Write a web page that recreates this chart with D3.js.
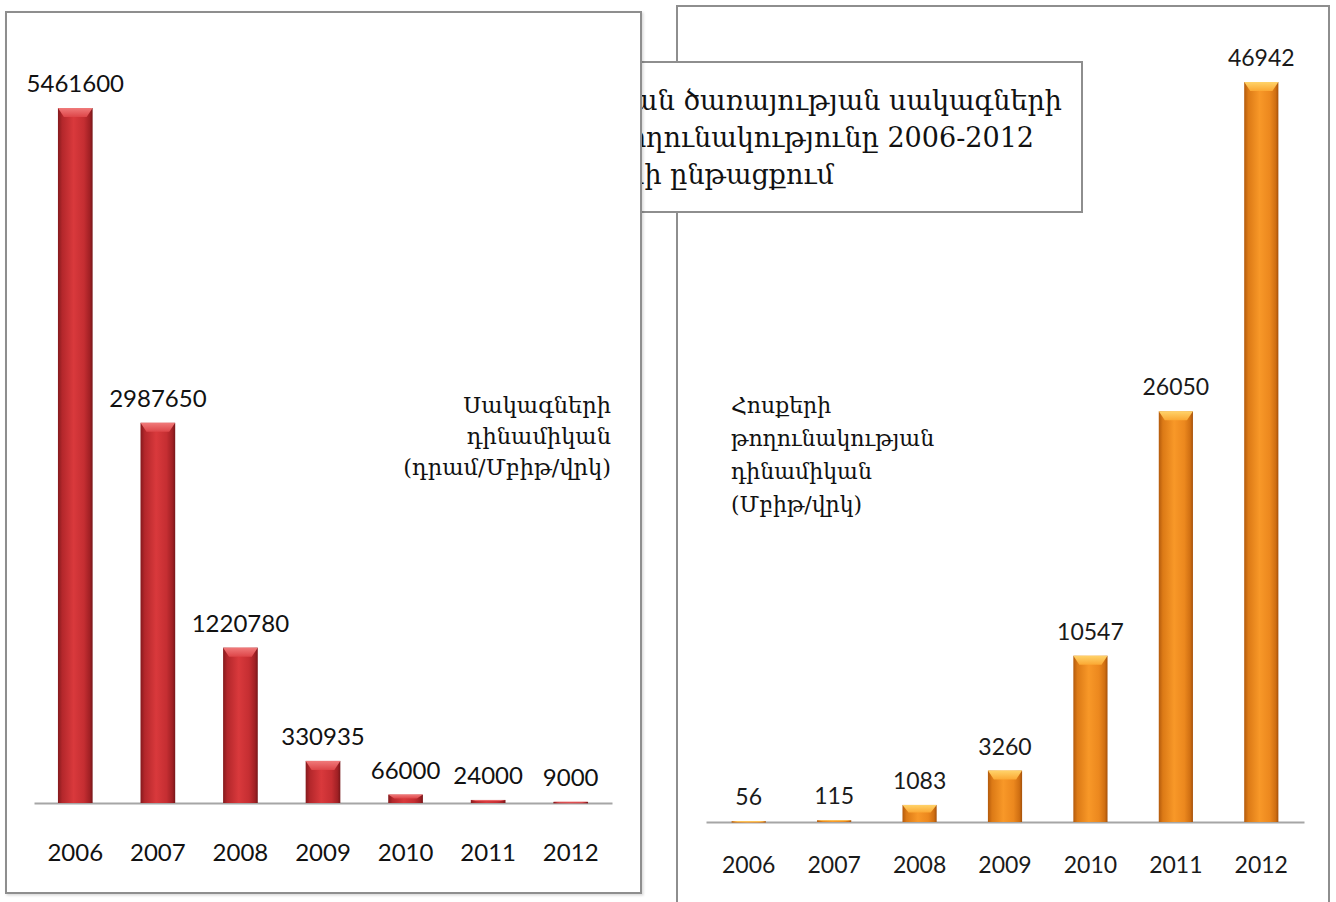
<!DOCTYPE html>
<html>
<head>
<meta charset="utf-8">
<script src="https://cdn.jsdelivr.net/npm/d3@7/dist/d3.min.js"></script>
<style>
  html, body { margin: 0; padding: 0; background: #ffffff; }
  svg { display: block; }
</style>
</head>
<body>
<script>
// ---------- data ----------
const years = ["2006", "2007", "2008", "2009", "2010", "2011", "2012"];
const tariffs = [5461600, 2987650, 1220780, 330935, 66000, 24000, 9000];
const throughput = [56, 115, 1083, 3260, 10547, 26050, 46942];
const titleLines = [
  "Ինտերնետ հասանելիության ծառայության սակագների",
  "և թողունակությունը 2006-2012",
  "թվականների ընթացքում"
];
const leftNote = ["Սակագների", "դինամիկան", "(դրամ/Մբիթ/վրկ)"];
const rightNote = ["Հոսքերի", "թողունակության", "դինամիկան", "(Մբիթ/վրկ)"];

// ---------- setup ----------
const W = 1336, H = 902;
const svg = d3.select("body").append("svg").attr("width", W).attr("height", H);
const defs = svg.append("defs");
const armFont = "'DejaVu Serif', serif";
const numFont = "Lato, 'Open Sans', sans-serif";
const borderCol = "#8e8e8e";

function hGrad(id, stops) {
  const g = defs.append("linearGradient").attr("id", id)
    .attr("x1", "0").attr("x2", "1").attr("y1", "0").attr("y2", "0");
  stops.forEach(s => g.append("stop").attr("offset", s[0]).attr("stop-color", s[1]));
}
function vGrad(id, stops) {
  const g = defs.append("linearGradient").attr("id", id)
    .attr("x1", "0").attr("x2", "0").attr("y1", "0").attr("y2", "1");
  stops.forEach(s => g.append("stop").attr("offset", s[0]).attr("stop-color", s[1]));
}
hGrad("redBody", [["0", "#841a1d"], ["0.12", "#b3272b"], ["0.45", "#d9393c"], ["0.75", "#c52e32"], ["0.92", "#a02024"], ["1", "#761619"]]);
vGrad("redTop", [["0", "#f07a7a"], ["1", "#dd4548"]]);
hGrad("orgBody", [["0", "#b35a0c"], ["0.12", "#dc7a16"], ["0.45", "#f89828"], ["0.75", "#ec881e"], ["0.92", "#d06f12"], ["1", "#a4500a"]]);
vGrad("orgTop", [["0", "#ffd36a"], ["1", "#fba833"]]);

const filt = defs.append("filter").attr("id", "shadow").attr("x", "-5%").attr("y", "-5%").attr("width", "115%").attr("height", "115%");
filt.append("feDropShadow").attr("dx", 1.5).attr("dy", 1.5).attr("stdDeviation", 1).attr("flood-color", "#000").attr("flood-opacity", 0.15);

function drawBars(g, data, x, y, bodyId, topId) {
  const bw = x.bandwidth();
  const bars = g.selectAll(".bar").data(data).join("g").attr("class", "bar");
  bars.append("rect")
    .attr("x", (d, i) => x(years[i]))
    .attr("y", d => y(d))
    .attr("width", bw)
    .attr("height", d => Math.max(1.5, y(0) - y(d)))
    .attr("fill", `url(#${bodyId})`);
  bars.append("path")
    .attr("d", (d, i) => {
      const x0 = x(years[i]), y0 = y(d);
      const h = Math.min(9, Math.max(1, (y(0) - y(d)) * 0.45));
      const inset = Math.min(6, bw * 0.18);
      return `M${x0},${y0}L${x0 + bw},${y0}L${x0 + bw - inset},${y0 + h}L${x0 + inset},${y0 + h}Z`;
    })
    .attr("fill", `url(#${topId})`);
}

// ---------- right panel (bottom layer) ----------
const right = svg.append("g");
right.append("rect").attr("x", 677).attr("y", 6).attr("width", 652).attr("height", 910)
  .attr("fill", "#fff").attr("stroke", borderCol).attr("stroke-width", 2);

const xR = d3.scaleBand().domain(years).range([706, 1304]).paddingInner(0.6).paddingOuter(0.3);
const yR = d3.scaleLinear().domain([0, d3.max(throughput)]).range([822, 82]);

const axR = right.append("g").attr("transform", `translate(0,${yR(0)})`)
  .call(d3.axisBottom(xR).tickSize(0).tickPadding(51));
axR.select(".domain").attr("stroke", "#a6a6a6").attr("stroke-width", 2);
axR.selectAll(".tick text").attr("font-family", numFont).attr("font-size", 23).attr("fill", "#1a1a1a").attr("dy", 0);

drawBars(right.append("g"), throughput, xR, yR, "orgBody", "orgTop");

right.append("g").selectAll("text").data(throughput).join("text")
  .attr("x", (d, i) => xR(years[i]) + xR.bandwidth() / 2)
  .attr("y", d => yR(d) - 16)
  .attr("text-anchor", "middle")
  .attr("font-family", numFont).attr("font-size", 23).attr("fill", "#1a1a1a")
  .text(d => d);

right.append("text").attr("font-family", armFont).attr("font-size", 22).attr("fill", "#111")
  .selectAll("tspan").data(rightNote).join("tspan")
  .attr("x", 731).attr("y", (d, i) => 413 + i * 33).text(d => d);

// ---------- title box (middle layer) ----------
const tb = svg.append("g");
tb.append("rect").attr("x", 560).attr("y", 62).attr("width", 522).attr("height", 150)
  .attr("fill", "#fff").attr("stroke", borderCol).attr("stroke-width", 2);
const titleEnds = [1062, 1034, 834];
tb.selectAll("text").data(titleLines).join("text")
  .attr("x", (d, i) => titleEnds[i])
  .attr("y", (d, i) => 110 + i * 37)
  .attr("text-anchor", "end")
  .attr("font-family", armFont).attr("font-size", 27).attr("fill", "#111")
  .text(d => d);

// ---------- left panel (top layer) ----------
const left = svg.append("g");
left.append("rect").attr("x", 6).attr("y", 12).attr("width", 635).attr("height", 881)
  .attr("fill", "#fff").attr("stroke", borderCol).attr("stroke-width", 2).attr("filter", "url(#shadow)");

const xL = d3.scaleBand().domain(years).range([34, 612]).paddingInner(0.58).paddingOuter(0.29);
const yL = d3.scaleLinear().domain([0, d3.max(tariffs)]).range([803, 108]);

const axL = left.append("g").attr("transform", `translate(0,${yL(0)})`)
  .call(d3.axisBottom(xL).tickSize(0).tickPadding(58));
axL.select(".domain").attr("stroke", "#a6a6a6").attr("stroke-width", 2);
axL.selectAll(".tick text").attr("font-family", numFont).attr("font-size", 24).attr("fill", "#111").attr("dy", 0);

drawBars(left.append("g"), tariffs, xL, yL, "redBody", "redTop");

left.append("g").selectAll("text").data(tariffs).join("text")
  .attr("x", (d, i) => xL(years[i]) + xL.bandwidth() / 2)
  .attr("y", d => yL(d) - 16)
  .attr("text-anchor", "middle")
  .attr("font-family", numFont).attr("font-size", 24).attr("fill", "#111")
  .text(d => d);

left.append("text").attr("font-family", armFont).attr("font-size", 22.5).attr("fill", "#111")
  .attr("text-anchor", "end")
  .selectAll("tspan").data(leftNote).join("tspan")
  .attr("x", 611).attr("y", (d, i) => 413 + i * 31).text(d => d);
</script>
</body>
</html>
